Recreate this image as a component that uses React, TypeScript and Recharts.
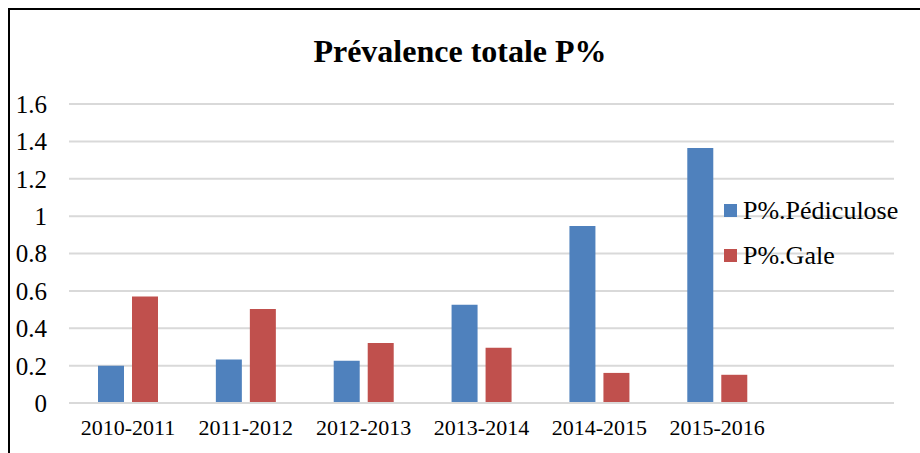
import { BarChart, Bar, XAxis, YAxis, CartesianGrid, Legend } from 'recharts';

// school years; the last slot is left empty, as on the original sheet
const seasons = ['2010-2011', '2011-2012', '2012-2013', '2013-2014', '2014-2015', '2015-2016', ''];
const pediculose = [0.2, 0.233, 0.226, 0.526, 0.947, 1.364, null];
const gale = [0.57, 0.503, 0.321, 0.296, 0.161, 0.151, null];
const yTicks = [0, 0.2, 0.4, 0.6, 0.8, 1, 1.2, 1.4, 1.6];
const seriesOrder = ['pediculose', 'gale'];

const rows = seasons.map((season, i) => ({
  season,
  pediculose: pediculose[i],
  gale: gale[i],
}));

const FONT = '"Liberation Serif", "Times New Roman", serif';
const GRID = '#d9d9d9';

// legend keeps the series order instead of the alphabetical default
function SideLegend({ payload }: any) {
  const items = [...(payload ?? [])].sort(
    (a: any, b: any) => seriesOrder.indexOf(a.dataKey) - seriesOrder.indexOf(b.dataKey),
  );
  return (
    <div style={{ fontFamily: FONT, color: '#000' }}>
      {items.map((entry: any) => (
        <div key={entry.value} style={{ display: 'flex', alignItems: 'center', height: 45 }}>
          <span style={{ display: 'inline-block', width: 13, height: 13, background: entry.color, marginRight: 6 }} />
          <span style={{ fontSize: 26, lineHeight: '26px' }}>{entry.value}</span>
        </div>
      ))}
    </div>
  );
}

export default function App() {
  return (
    <div
      style={{
        position: 'fixed',
        left: 8,
        top: 8,
        width: 930,
        height: 470,
        border: '2px solid #000',
        background: '#fff',
        fontFamily: FONT,
      }}
    >
      <div
        style={{
          position: 'absolute',
          left: 0,
          top: 25,
          width: 900,
          textAlign: 'center',
          fontSize: 32,
          lineHeight: '32px',
          fontWeight: 'bold',
          color: '#000',
        }}
      >
        Prévalence totale P%
      </div>
      <div style={{ position: 'absolute', left: 0, top: 0 }}>
        <BarChart
          width={910}
          height={443}
          data={rows}
          margin={{ top: 94, right: 26, left: 0, bottom: 20 }}
          barSize={26}
          barGap={8}
        >
          <CartesianGrid vertical={false} stroke={GRID} strokeWidth={2} />
          <XAxis
            dataKey="season"
            height={30}
            axisLine={{ stroke: GRID, strokeWidth: 2 }}
            tickLine={false}
            tickSize={0}
            tickMargin={16}
            interval={0}
            tick={{ fill: '#000', fontSize: 22, fontFamily: FONT }}
          />
          <YAxis
            width={59}
            domain={[0, 1.6]}
            ticks={yTicks}
            axisLine={false}
            tickLine={false}
            tickSize={0}
            tickMargin={22}
            tick={{ fill: '#000', fontSize: 25, fontFamily: FONT }}
          />
          <Legend
            layout="vertical"
            align="center"
            verticalAlign="middle"
            content={<SideLegend />}
            wrapperStyle={{ left: 714, top: 178, width: 200 }}
          />
          <Bar dataKey="pediculose" name="P%.Pédiculose" fill="#4F81BD" isAnimationActive={false} />
          <Bar dataKey="gale" name="P%.Gale" fill="#C0504D" isAnimationActive={false} />
        </BarChart>
      </div>
    </div>
  );
}
